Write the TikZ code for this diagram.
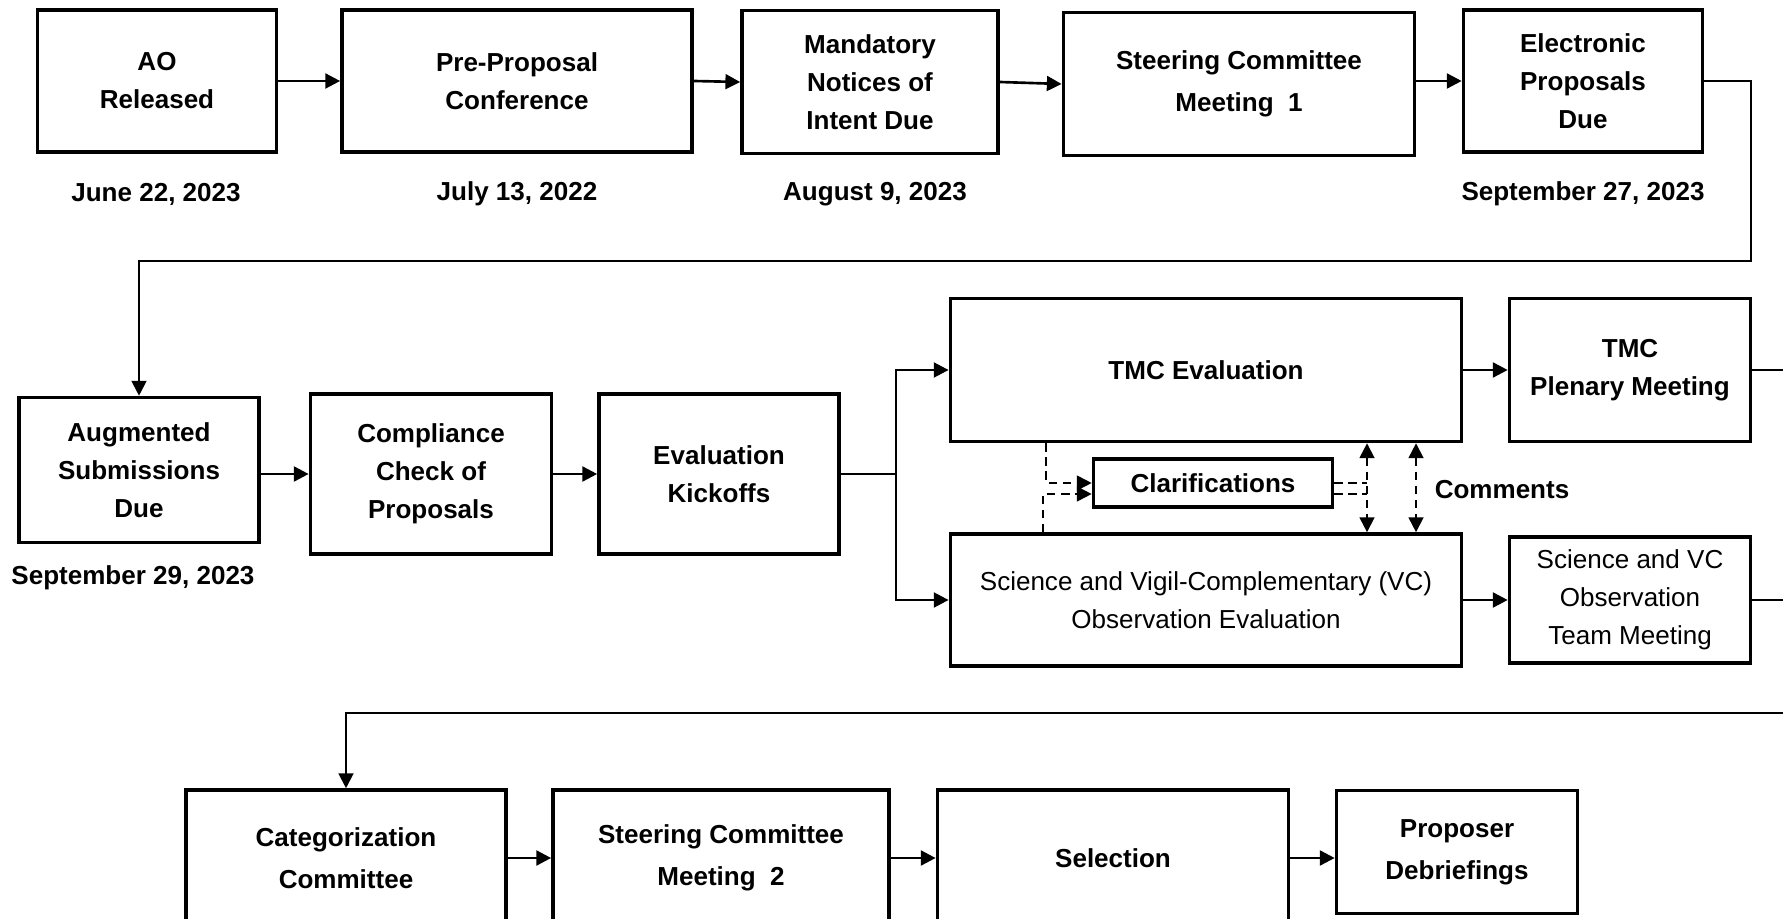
\documentclass[tikz,border=0pt]{standalone}
\usepackage{fontspec}
\setmainfont{Liberation Sans}
\usetikzlibrary{arrows.meta}
\newcommand{\boldtxt}{\fontsize{7.4}{10.8}\selectfont\bfseries}
\newcommand{\widetxt}{\fontsize{7.4}{11.9}\selectfont\bfseries}
\newcommand{\plaintxt}{\fontsize{7.4}{10.8}\selectfont}
\tikzset{
    stagebox/.style={draw, line width=1pt, align=center, inner sep=0pt, font=\boldtxt},
    widebox/.style={stagebox, font=\widetxt},
    plainbox/.style={stagebox, font=\plaintxt},
    datelabel/.style={font=\boldtxt, inner sep=0pt},
    flow/.style={line width=0.75pt, -{Triangle[length=4.2pt, width=4.2pt]}},
    feed/.style={line width=0.6pt, -{Triangle[length=4.2pt, width=4.2pt]}},
    linkdash/.style={line width=0.55pt, dash pattern=on 2.4pt off 1.6pt},
}

\begin{document}
\begin{tikzpicture}[x=0.01cm, y=-0.01cm]
    \path[use as bounding box, clip] (0, 0) rectangle (1783, 919);
    % Row 1
    \node[stagebox, minimum width=2.39cm, minimum height=1.42cm] (ao) at (157, 81) {AO\\Released};
    \node[stagebox, minimum width=3.50cm, minimum height=1.42cm] (prepro) at (517, 81) {Pre-Proposal\\Conference};
    \node[stagebox, minimum width=2.56cm, minimum height=1.43cm] (notices) at (870, 82) {Mandatory\\Notices of\\Intent Due};
    \node[widebox, minimum width=3.51cm, minimum height=1.43cm] (steer1) at (1239, 84) {Steering Committee\\Meeting~ 1};
    \node[stagebox, minimum width=2.39cm, minimum height=1.42cm] (elec) at (1583, 81) {Electronic\\Proposals\\Due};
    \node[datelabel] (aodate) at (156, 194) {June 22, 2023};
    \node[datelabel] (confdate) at (517, 194) {July 13, 2022};
    \node[datelabel] (noidate) at (875, 194) {August 9, 2023};
    \node[datelabel] (propdate) at (1583, 194) {September 27, 2023};
    \draw[flow] (ao.east) -- (prepro.west);
    \draw[flow] (prepro.east) -- (notices.west);
    \draw[flow] (notices.east) -- (steer1.west);
    \draw[flow] (steer1.east |- elec.west) -- (elec.west);
    % Row 2
    \node[stagebox, minimum width=2.40cm, minimum height=1.45cm] (aug) at (139, 470) {Augmented\\Submissions\\Due};
    \node[stagebox, minimum width=2.41cm, minimum height=1.60cm] (comp) at (431, 474) {Compliance\\Check of\\Proposals};
    \node[stagebox, minimum width=2.40cm, minimum height=1.60cm] (kick) at (719, 474) {Evaluation\\Kickoffs};
    \node[stagebox, minimum width=5.11cm, minimum height=1.43cm] (tmceval) at (1206, 370) {TMC Evaluation};
    \node[stagebox, minimum width=2.41cm, minimum height=1.43cm] (plenary) at (1630, 370) {TMC\\Plenary Meeting};
    \node[stagebox, minimum width=2.39cm, minimum height=0.48cm] (clarif) at (1213, 483) {Clarifications};
    \node[plainbox, minimum width=5.11cm, minimum height=1.32cm] (scieval) at (1206, 600) {Science and Vigil-Complementary (VC)\\Observation Evaluation};
    \node[plainbox, minimum width=2.41cm, minimum height=1.26cm] (scimeet) at (1630, 600) {Science and VC\\Observation\\Team Meeting};
    \node[datelabel] (comments) at (1502, 490) {Comments};
    \node[datelabel] (augdate) at (133, 578) {September 29, 2023};
    \coordinate (turn1) at (1751, 261);
    \draw[feed] (elec.east) -| (turn1) -| (aug.north);
    \draw[flow] (aug.east |- comp.west) -- (comp.west);
    \draw[flow] (comp.east) -- (kick.west);
    \coordinate (split) at (896, 474);
    \draw[line width=0.75pt] (kick.east) -- (split);
    \draw[flow] (split) |- (tmceval.west);
    \draw[flow] (split) |- (scieval.west);
    \draw[flow] (tmceval.east) -- (plenary.west);
    \draw[flow] (scieval.east) -- (scimeet.west);
    \coordinate (rim) at (1790, 0);
    \draw[line width=0.75pt] (plenary.east) -- (plenary.east -| rim);
    \draw[line width=0.75pt] (scimeet.east) -- (scimeet.east -| rim);
    % Clarification links
    \coordinate (dA) at (1046, 483);
    \coordinate (dB) at (1043, 494);
    \coordinate (linkR) at (1367, 0);
    \coordinate (linkC) at (1416, 0);
    \draw[linkdash, -{Triangle[length=4.2pt, width=4.2pt]}] (tmceval.south -| dA) |- (clarif.west);
    \draw[linkdash, -{Triangle[length=4.2pt, width=4.2pt]}] (scieval.north -| dB) |- (clarif.west |- dB);
    \draw[linkdash] (clarif.east) -- (clarif.east -| linkR);
    \draw[linkdash] (clarif.east |- dB) -- (linkR |- dB);
    \draw[linkdash, {Triangle[length=4.2pt, width=4.2pt]}-{Triangle[length=4.2pt, width=4.2pt]}] (tmceval.south -| linkR) -- (scieval.north -| linkR);
    \draw[linkdash, {Triangle[length=4.2pt, width=4.2pt]}-{Triangle[length=4.2pt, width=4.2pt]}] (tmceval.south -| linkC) -- (scieval.north -| linkC);
    % Row 3
    \node[widebox, minimum width=3.20cm, minimum height=1.36cm] (cat) at (346, 858) {Categorization\\Committee};
    \node[widebox, minimum width=3.36cm, minimum height=1.36cm] (steer2) at (721, 858) {Steering Committee\\Meeting~ 2};
    \node[stagebox, minimum width=3.51cm, minimum height=1.36cm] (select) at (1113, 858) {Selection};
    \node[widebox, minimum width=2.41cm, minimum height=1.23cm] (debrief) at (1457, 852) {Proposer\\Debriefings};
    \coordinate (turn2) at (1790, 713);
    \draw[feed] (turn2) -| (cat.north);
    \draw[flow] (cat.east) -- (steer2.west);
    \draw[flow] (steer2.east) -- (select.west);
    \draw[flow] (select.east) -- (select.east -| debrief.west);
\end{tikzpicture}
\end{document}
